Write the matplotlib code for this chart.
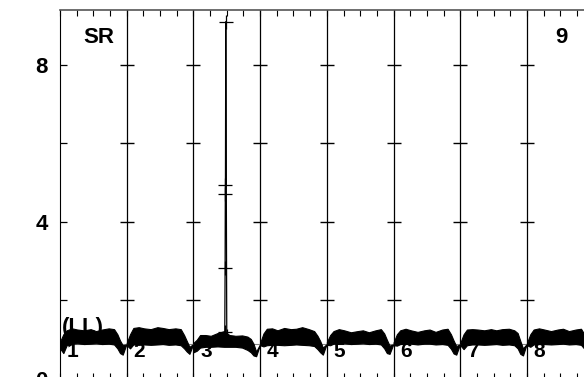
import matplotlib
matplotlib.use("Agg")
import matplotlib.pyplot as plt
from matplotlib.ticker import FixedLocator, FuncFormatter

plt.rcParams['font.family'] = ['Liberation Sans', 'DejaVu Sans']
plt.rcParams['font.weight'] = 'bold'

# ---- data ----
panel_labels = ['1', '2', '3', '4', '5', '6', '7', '8']
fracs = [0.0, 0.05, 0.10, 0.18, 0.26, 0.36, 0.46, 0.54, 0.63, 0.73, 0.81, 0.86, 0.90, 0.94, 0.99]

upper = [
    [0.95, 1.14, 1.24, 1.29, 1.26, 1.24, 1.27, 1.22, 1.26, 1.29, 1.27, 1.14, 0.98, 0.86, 0.88],
    [0.92, 1.14, 1.30, 1.32, 1.29, 1.27, 1.32, 1.30, 1.27, 1.29, 1.27, 1.12, 0.97, 0.82, 0.88],
    [0.92, 1.00, 1.12, 1.12, 1.10, 1.17, 1.22, 1.12, 1.10, 1.11, 1.08, 1.02, 0.90, 0.70, 0.86],
    [0.92, 1.16, 1.28, 1.29, 1.24, 1.30, 1.27, 1.28, 1.32, 1.27, 1.22, 1.10, 0.97, 0.80, 0.88],
    [0.94, 1.12, 1.22, 1.27, 1.24, 1.19, 1.22, 1.24, 1.19, 1.24, 1.27, 1.16, 1.00, 0.85, 0.88],
    [0.93, 1.14, 1.24, 1.28, 1.24, 1.20, 1.24, 1.26, 1.20, 1.26, 1.28, 1.14, 0.98, 0.84, 0.88],
    [0.92, 1.14, 1.26, 1.27, 1.26, 1.24, 1.27, 1.24, 1.27, 1.28, 1.24, 1.17, 0.97, 0.78, 0.88],
    [0.92, 1.14, 1.26, 1.29, 1.26, 1.22, 1.26, 1.28, 1.22, 1.26, 1.28, 1.14, 0.98, 0.84, 0.88],
]
lower = [
    [0.78, 0.66, 0.86, 0.90, 0.91, 0.89, 0.90, 0.91, 0.89, 0.90, 0.88, 0.78, 0.66, 0.62, 0.86],
    [0.86, 0.78, 0.88, 0.87, 0.88, 0.87, 0.88, 0.89, 0.87, 0.88, 0.86, 0.78, 0.70, 0.64, 0.86],
    [0.68, 0.72, 0.80, 0.82, 0.82, 0.83, 0.82, 0.82, 0.82, 0.80, 0.74, 0.68, 0.60, 0.58, 0.84],
    [0.86, 0.83, 0.86, 0.87, 0.87, 0.86, 0.87, 0.88, 0.87, 0.86, 0.84, 0.76, 0.68, 0.62, 0.86],
    [0.87, 0.86, 0.90, 0.90, 0.91, 0.89, 0.90, 0.91, 0.89, 0.90, 0.88, 0.78, 0.66, 0.64, 0.86],
    [0.86, 0.85, 0.89, 0.90, 0.90, 0.88, 0.90, 0.90, 0.88, 0.89, 0.87, 0.77, 0.65, 0.62, 0.86],
    [0.86, 0.76, 0.86, 0.88, 0.88, 0.87, 0.88, 0.89, 0.87, 0.88, 0.86, 0.78, 0.64, 0.60, 0.86],
    [0.86, 0.82, 0.88, 0.89, 0.89, 0.88, 0.89, 0.90, 0.88, 0.89, 0.87, 0.77, 0.65, 0.62, 0.86],
]

# spike in panel 3
spike_x = [2.470, 2.475, 2.478, 2.480, 2.485, 2.500]
spike_y = [1.20, 2.83, 4.71, 4.94, 9.10, 1.10]

boundaries = [1, 2, 3, 4, 5, 6, 7, 8]
ytick_vals = [0, 2, 4, 6, 8]
ytick_labels = {0: '0', 4: '4', 8: '8'}
base_level = 0.88

# ---- figure ----
fig = plt.figure(figsize=(5.84, 3.77), dpi=100)
ax = fig.add_axes([60 / 584, -2 / 377, 9 * 66.71 / 584, 369 / 377])
ax.set_xlim(0, 9)
ax.set_ylim(0, 9.40)

# panel separators with cross ticks
for b in boundaries:
    ax.axvline(b, color='black', lw=0.9, zorder=1)
    ax.plot([b] * len(ytick_vals[1:]), ytick_vals[1:], ls='none', marker='_',
            ms=10, mew=1.0, color='black', zorder=1)

ax.axhline(base_level, color='gray', lw=0.8, zorder=2)

# wavy bands
for i in range(len(panel_labels)):
    xs = [i + f for f in fracs]
    ax.fill_between(xs, lower[i], upper[i], color='black', lw=0.8, edgecolor='black', zorder=3)

# spike
ax.plot(spike_x, spike_y, color='black', lw=0.9, marker='+', ms=9.5, mew=0.9, zorder=4)

# texts
for i, lab in enumerate(panel_labels):
    ax.text(i + 0.1, 0.55, lab, fontsize=15, fontweight='bold', ha='left', va='baseline', zorder=5)
ax.text(0.03, 1.18, '(LL)', fontsize=16, fontweight='bold', ha='left', va='baseline', zorder=2)
ax.text(0.345, 8.56, 'SR', fontsize=16, fontweight='bold', ha='left', va='baseline')
ax.text(7.42, 8.56, '9', fontsize=16, fontweight='bold', ha='left', va='baseline')

# axes styling
ax.xaxis.set_major_locator(FixedLocator([k * 0.25 for k in range(37)]))
ax.xaxis.set_major_formatter(FuncFormatter(lambda v, p: ''))
ax.tick_params(axis='x', direction='in', length=4.5, width=0.8, top=True, bottom=True)
ax.yaxis.set_major_locator(FixedLocator(ytick_vals))
ax.yaxis.set_major_formatter(FuncFormatter(lambda v, p: ytick_labels.get(int(round(v)), '')))
ax.tick_params(axis='y', direction='in', length=5, width=0.9, labelsize=16, pad=9)
for lab in ax.get_yticklabels():
    lab.set_fontweight('bold')
ax.spines['top'].set_color('#555555')
ax.spines['top'].set_linewidth(1.2)

fig.savefig('out.png', dpi=100)
